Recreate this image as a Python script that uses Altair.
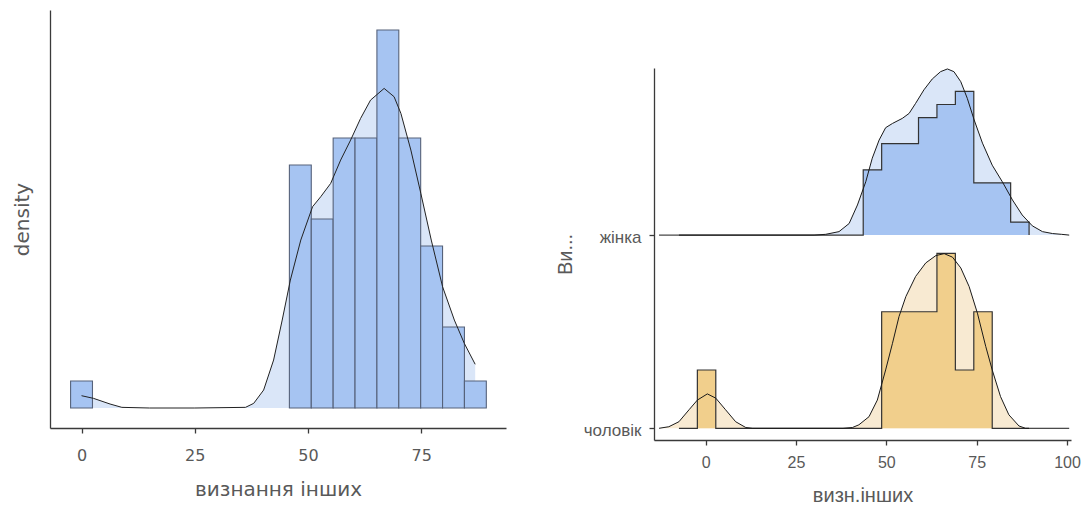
import altair as alt
import pandas as pd

# ---------------- left panel: histogram + density of "визнання інших" ----------------
left_bin_centers = [0.0, 48.3, 53.13, 57.96, 62.79, 67.62, 72.45, 77.28, 82.11, 86.94]
left_bin_width = 4.83
left_counts = [1, 9, 7, 10, 10, 14, 10, 6, 3, 1]
left_n = 71

left_kde_x = [0.0, 2.65, 6.3, 8.9, 15.0, 25.0, 36.2, 38.0, 40.2, 42.4, 44.3, 46.1, 48.4, 51.0,
              52.8, 55.0, 57.2, 59.4, 61.6, 63.8, 66.8, 69.0, 70.5, 72.7, 74.9, 77.2, 79.7,
              82.3, 84.5, 86.9]
left_kde_y = [0.00133, 0.00104, 0.00043, 0.00007, 0.0, 0.0, 0.00007, 0.0005, 0.00194, 0.00518,
              0.0095, 0.01382, 0.01814, 0.02174, 0.02282, 0.02426, 0.02678, 0.02894, 0.03128,
              0.03326, 0.03452, 0.03362, 0.03182, 0.02786, 0.02318, 0.01814, 0.0131, 0.0095,
              0.00698, 0.00472]

left_ticks = [0, 25, 50, 75]

# ---------------- right panel: ridgelines by group ----------------
groups = ["чоловік", "жінка"]
right_edges = [-7.4, -2.3, 2.8, 7.9, 13.0, 18.1, 23.2, 28.3, 33.4, 38.5, 43.6, 48.7, 53.8,
               58.9, 64.0, 69.1, 74.2, 79.3, 84.4, 89.5]
right_bin_width = 5.1
men_counts = [0, 1, 0, 0, 0, 0, 0, 0, 0, 0, 0, 2, 2, 2, 3, 1, 2, 0, 0]
women_counts = [0, 0, 0, 0, 0, 0, 0, 0, 0, 0, 5, 7, 7, 9, 10, 11, 4, 4, 1]
men_n = 13
women_n = 58

men_kde_x = [-12.9, -10.2, -7.4, -4.6, -2.3, 0.46, 2.8, 5.5, 8.3, 11.1, 13.0, 38.0, 40.6, 42.4,
             45.2, 47.5, 49.8, 51.7, 53.5, 55.4, 58.1, 60.9, 63.7, 66.0, 68.3, 70.6, 72.9, 75.2,
             77.5, 79.3, 81.6, 83.9, 86.7, 88.5, 100.6]
men_kde_y = [0, 0.0004, 0.0017, 0.0048, 0.0073, 0.0089, 0.0078, 0.0048, 0.0017, 0.0002, 0, 0,
             0.0002, 0.0009, 0.0030, 0.0073, 0.0151, 0.0220, 0.0289, 0.0341, 0.0393, 0.0428,
             0.0447, 0.0452, 0.0443, 0.0415, 0.0367, 0.0298, 0.0212, 0.0151, 0.0082, 0.0035,
             0.0006, 0, 0]
women_kde_x = [-12.9, 30.0, 33.2, 36.9, 39.7, 42.0, 44.3, 46.1, 48.0, 49.8, 51.7, 54.4, 56.3,
               58.1, 60.4, 62.7, 65.0, 66.9, 68.7, 70.6, 72.4, 74.3, 76.6, 79.3, 82.1, 84.9,
               87.6, 90.4, 93.2, 96.0, 98.5, 100.6]
women_kde_y = [0, 0, 0.0002, 0.0009, 0.0030, 0.0078, 0.0138, 0.0199, 0.0246, 0.0278, 0.0289,
               0.0302, 0.0315, 0.0341, 0.0376, 0.0404, 0.0423, 0.0430, 0.0423, 0.0397, 0.0354,
               0.0298, 0.0238, 0.0181, 0.0138, 0.0091, 0.0052, 0.0024, 0.0009, 0.0004, 0.0002,
               0.0]
right_ticks = [0, 25, 50, 75, 100]
ridge_scale = 20.0

# ---------------- build tables ----------------
left_hist = pd.DataFrame({
    "start": [c - left_bin_width / 2 for c in left_bin_centers],
    "end": [c + left_bin_width / 2 for c in left_bin_centers],
    "density": [k / (left_n * left_bin_width) for k in left_counts],
})
left_kde = pd.DataFrame({"x": left_kde_x, "density": left_kde_y})

kde_rows, hist_rows = [], []
for gi, (name, xs, ys) in enumerate([(groups[0], men_kde_x, men_kde_y),
                                      (groups[1], women_kde_x, women_kde_y)]):
    for i, (x, y) in enumerate(zip(xs, ys)):
        kde_rows.append({"group": name, "base": gi, "x": x, "top": gi + y * ridge_scale, "i": i})
for gi, (name, counts, n) in enumerate([(groups[0], men_counts, men_n),
                                         (groups[1], women_counts, women_n)]):
    for i, e in enumerate(right_edges):
        c = counts[i] if i < len(counts) else 0
        d = c / (n * right_bin_width)
        hist_rows.append({"group": name, "base": gi, "x": e, "top": gi + d * ridge_scale, "i": i})
ridge_kde = pd.DataFrame(kde_rows)
ridge_hist = pd.DataFrame(hist_rows)

TXT = "#595959"
AX = "#3a3a3a"

# ---------------- left chart ----------------
lx_scale = alt.Scale(domain=[-6.96, 93.7], nice=False, zero=False)
ly_scale = alt.Scale(domain=[-0.00216, 0.04299], nice=False, zero=False)
lx_axis = alt.Axis(values=left_ticks, title="визнання інших", grid=False, tickSize=5,
                   labelFont="DejaVu Sans", labelFontSize=16, labelColor=TXT, labelPadding=14,
                   titleFont="DejaVu Sans", titleFontSize=20, titleColor=TXT, titleFontWeight="normal",
                   titlePadding=16, domainColor=AX, tickColor=AX, domainWidth=1.3, tickWidth=1.3)
ly_axis = alt.Axis(labels=False, ticks=False, grid=False, title="density", minExtent=0,
                   titleFont="DejaVu Sans", titleFontSize=20, titleColor=TXT, titleFontWeight="normal",
                   titlePadding=18, domainColor=AX, domainWidth=1.3)

l_area = alt.Chart(left_kde).mark_area(color="#DAE6F8", opacity=1).encode(
    x=alt.X("x:Q", scale=lx_scale, axis=lx_axis),
    y=alt.Y("density:Q", scale=ly_scale, axis=ly_axis),
    y2=alt.datum(0),
)
l_bars = alt.Chart(left_hist).mark_rect(fill="#A6C4F2", stroke="#56627a", strokeWidth=1.1).encode(
    x=alt.X("start:Q", scale=lx_scale, axis=lx_axis),
    x2="end:Q",
    y=alt.Y("density:Q", scale=ly_scale, axis=ly_axis),
    y2=alt.datum(0),
)
l_line = alt.Chart(left_kde).mark_line(color="#222222", strokeWidth=1).encode(
    x=alt.X("x:Q", scale=lx_scale, axis=lx_axis),
    y=alt.Y("density:Q", scale=ly_scale, axis=ly_axis),
)
left = alt.layer(l_area, l_bars, l_line).properties(width=456, height=418)

# ---------------- right chart ----------------
rx_scale = alt.Scale(domain=[-14.3, 101.1], nice=False, zero=False)
ry_scale = alt.Scale(domain=[-0.0606, 1.865], nice=False, zero=False)
rx_axis = alt.Axis(values=right_ticks, title="визн.інших", grid=False, tickSize=5,
                   labelFont="Liberation Sans", labelFontSize=16, labelColor=TXT, labelPadding=9,
                   titleFont="Liberation Sans", titleFontSize=20, titleColor=TXT, titleFontWeight="normal",
                   titlePadding=15, domainColor=AX, tickColor=AX, domainWidth=1.3, tickWidth=1.3)
ry_axis = alt.Axis(values=[0, 1], labelExpr="datum.value == 1 ? 'жінка' : 'чоловік'",
                   title="Ви...", grid=False, tickSize=5,
                   labelFont="Liberation Sans", labelFontSize=17, labelColor=TXT, labelPadding=8,
                   labelBaseline="middle", labelOffset=2,
                   titleFont="Liberation Sans", titleFontSize=20, titleColor=TXT, titleFontWeight="normal",
                   titlePadding=8, domainColor=AX, tickColor=AX, domainWidth=1.3, tickWidth=1.3)

rx = alt.X("x:Q", scale=rx_scale, axis=rx_axis)
ry = alt.Y("top:Q", scale=ry_scale, axis=ry_axis, stack=None)

light_fill = {"чоловік": "#F8EAD2", "жінка": "#DAE6F8"}
hist_fill = {"чоловік": "#F1CF8C", "жінка": "#A6C4F2"}

layers = []
for g in groups:
    layers.append(
        alt.Chart(ridge_kde).transform_filter(alt.datum.group == g)
        .mark_area(color=light_fill[g], opacity=1)
        .encode(x=rx, y=ry, y2="base:Q")
    )
    layers.append(
        alt.Chart(ridge_hist).transform_filter(alt.datum.group == g)
        .mark_area(color=hist_fill[g], opacity=1, interpolate="step-after")
        .encode(x=rx, y=ry, y2="base:Q")
    )
layers.append(
    alt.Chart(ridge_hist).mark_line(color="#333333", strokeWidth=1.2, interpolate="step-after")
    .encode(x=rx, y=ry, detail="group:N", order="i:Q")
)
layers.append(
    alt.Chart(ridge_kde).mark_line(color="#1a1a1a", strokeWidth=1)
    .encode(x=rx, y=ry, detail="group:N", order="i:Q")
)
right = alt.layer(*layers).properties(width=417, height=372)

spacer = alt.Chart(pd.DataFrame({"a": [0]})).mark_point(opacity=0).encode(
    x=alt.X("a:Q", axis=None), y=alt.Y("a:Q", axis=None)
).properties(width=417, height=56)

right_col = alt.vconcat(spacer, right, spacing=0)

chart = alt.hconcat(left, right_col, spacing=49).properties(
    padding={"left": 12, "top": 10, "right": 5, "bottom": 0},
    background="white",
).configure_view(stroke=None)

chart.save("out.html", embed_options={"renderer": "svg", "actions": False})
